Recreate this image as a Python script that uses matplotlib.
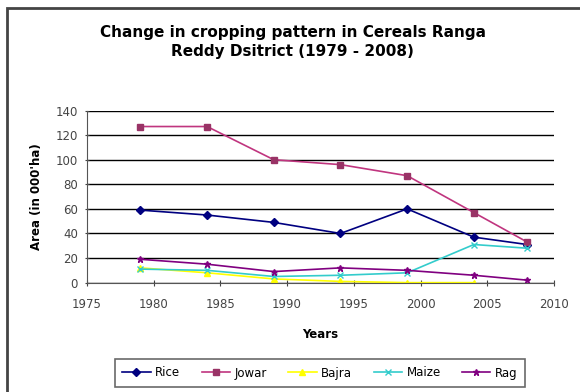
import matplotlib.pyplot as plt
from matplotlib.patches import Rectangle

plt.rcParams['font.family'] = ['DejaVu Sans']

years = [1979, 1984, 1989, 1994, 1999, 2004, 2008]
rice = [59, 55, 49, 40, 60, 37, 31]
jowar = [127, 127, 100, 96, 87, 57, 33]
bajra = [12, 8, 3, 1, 0, 0]
maize = [11, 10, 5, 6, 8, 31, 28]
ragi = [19, 15, 9, 12, 10, 6, 2]

fig = plt.figure(figsize=(5.8, 3.92), dpi=100)
ax = fig.add_axes([0.15, 0.279, 0.805, 0.439])

ax.plot(years, rice, color='#000080', marker='D', ms=4, lw=1.2, label='Rice')
ax.plot(years, jowar, color='#C0357F', marker='s', ms=5, mfc='#993366', mec='#993366', lw=1.2, label='Jowar')
ax.plot(years[:6], bajra, color='#FFFF00', marker='^', ms=5, lw=1.2, label='Bajra')
ax.plot(years, maize, color='#33CCCC', marker='x', ms=4, lw=1.2, label='Maize')
ax.plot(years, ragi, color='#800080', marker='*', ms=5, lw=1.2, label='Rag')

ax.set_xlim(1975, 2010)
ax.set_ylim(0, 140)
ax.set_xticks(range(1975, 2011, 5))
ax.set_yticks(range(0, 141, 20))
ax.yaxis.grid(True, color='black', lw=1)
ax.set_axisbelow(True)
for s in ['top', 'right']:
    ax.spines[s].set_visible(False)
ax.spines['left'].set_color('#555555')
ax.spines['bottom'].set_color('#555555')
ax.tick_params(labelsize=8.5, colors='#444444', direction='inout', length=4)
ax.tick_params(axis='x', pad=9)
ax.tick_params(axis='y', length=3, pad=5)

ax.set_xlabel('Years', fontsize=8.5, fontweight='bold', labelpad=12)
ax.set_ylabel("Area (in 000'ha)", fontsize=8.5, fontweight='bold', labelpad=9)

fig.text(0.505, 0.893, 'Change in cropping pattern in Cereals Ranga\nReddy Dsitrict (1979 - 2008)',
         ha='center', va='center', fontsize=11, fontweight='bold', linespacing=1.35)

leg = ax.legend(loc='center', bbox_to_anchor=(320 / 580, 1 - 373 / 392), bbox_transform=fig.transFigure,
                ncol=5, fontsize=8.5, frameon=True, fancybox=False, edgecolor='#444444',
                handlelength=2.4, columnspacing=1.8, handletextpad=0.4, borderpad=0.6)
leg.get_frame().set_linewidth(1.2)

# chart border (left and top edges visible in the reference)
fig.patches.append(Rectangle((7 / 580, -10 / 392), 590 / 580, 394 / 392, transform=fig.transFigure,
                             fill=False, edgecolor='#444444', lw=2))

fig.savefig('out.png', dpi=100)
